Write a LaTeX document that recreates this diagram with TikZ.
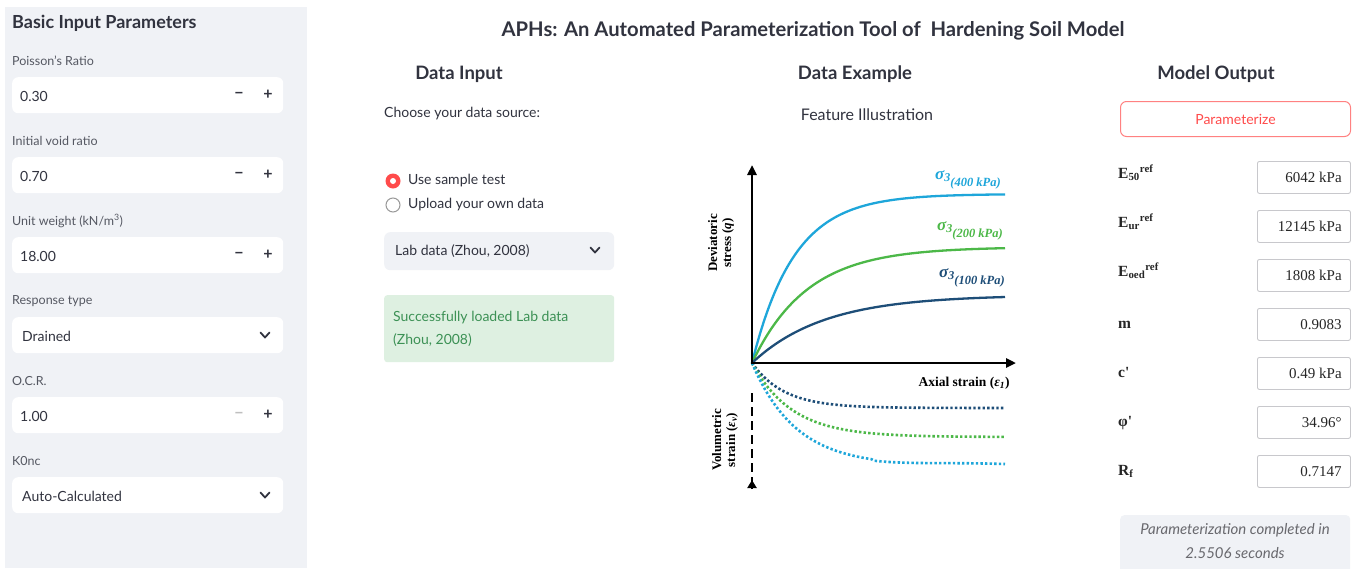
\documentclass[tikz,border=0pt]{standalone}
\usepackage{fontspec}
\setmainfont{Lato}
\newfontfamily\serifui{Liberation Serif}
\usetikzlibrary{arrows.meta}

\definecolor{sidebg}{RGB}{240,242,246}
\definecolor{uitext}{RGB}{49,51,63}
\definecolor{labeltext}{RGB}{85,88,98}
\definecolor{accent}{RGB}{255,75,75}
\definecolor{okbg}{RGB}{222,240,225}
\definecolor{oktext}{RGB}{60,145,85}
\definecolor{boxline}{RGB}{200,200,204}
\definecolor{curvecyan}{RGB}{30,166,218}
\definecolor{curvegreen}{RGB}{76,184,72}
\definecolor{curvenavy}{RGB}{30,78,120}
\definecolor{notegray}{RGB}{105,105,110}

\tikzset{
  txt/.style={inner sep=0pt, text=uitext, font=\fontsize{14}{16}\selectfont},
  fieldlabel/.style={inner sep=0pt, anchor=west, text=labeltext, font=\fontsize{12.5}{14}\selectfont},
  field/.style={fill=white, rounded corners=6pt, minimum width=271pt, minimum height=36pt, anchor=north west, inner sep=0pt},
  fieldval/.style={txt, anchor=west},
  stepper/.style={inner sep=0pt, text=uitext, font=\bfseries\fontsize{16}{16}\selectfont},
  chevron/.style={uitext, line width=1.8pt, line cap=round, line join=round},
  heading/.style={inner sep=0pt, text=uitext, font=\bfseries\fontsize{18.5}{21}\selectfont},
  outbox/.style={draw=boxline, line width=0.9pt, rounded corners=2pt, fill=white, minimum width=93pt, minimum height=32pt, anchor=north west, inner sep=0pt},
  outval/.style={inner sep=0pt, anchor=east, font=\serifui\fontsize{15}{16}\selectfont, text=black!85},
  outlabel/.style={inner sep=0pt, anchor=base west, font=\serifui\bfseries\fontsize{15.5}{16}\selectfont, text=black!85},
  axis/.style={black, line width=2.6pt},
  plotlabel/.style={inner sep=0pt, font=\serifui\bfseries\fontsize{13}{14}\selectfont, align=center},
  sigmalabel/.style={inner sep=0pt, anchor=base west, font=\serifui\bfseries\itshape\fontsize{17}{18}\selectfont},
  qcurve/.style={line width=2.3pt},
  evcurve/.style={line width=2.6pt, dash pattern=on 2.4pt off 2.2pt}
}

\newcommand{\sigmatext}[1]{σ\raisebox{-0.3ex}{\fontsize{12}{12}\selectfont 3}\raisebox{-1.0ex}{\fontsize{12.5}{13}\selectfont (#1 kPa)}}

\begin{document}
\begin{tikzpicture}[x=1pt,y=-1pt]
\useasboundingbox (0,0) rectangle (1355,568);
\fill[white] (0,0) rectangle (1355,568);

% ---------------- sidebar ----------------
\fill[sidebg] (5,7) rectangle (307,568);
\node[inner sep=0pt, anchor=west, text=uitext, font=\bfseries\fontsize{18}{21}\selectfont] (sidetitle) at (12,23) {Basic Input Parameters};

% Poisson's ratio
\node[fieldlabel] (lpoisson) at (12,61) {Poisson's Ratio};
\node[field] (fpoisson) at (12,77) {};
\node[fieldval] (vpoisson) at (20,96) {0.30};
\node[stepper] (mpoisson) at (239,95) {−};
\node[stepper] (ppoisson) at (268,95) {+};

% Initial void ratio
\node[fieldlabel] (lvoid) at (12,141) {Initial void ratio};
\node[field] (fvoid) at (12,157) {};
\node[fieldval] (vvoid) at (20,176) {0.70};
\node[stepper] (mvoid) at (239,175) {−};
\node[stepper] (pvoid) at (268,175) {+};

% Unit weight
\node[fieldlabel] (lweight) at (12,221) {Unit weight (kN/m\textsuperscript{3})};
\node[field] (fweight) at (12,237) {};
\node[fieldval] (vweight) at (20,256) {18.00};
\node[stepper] (mweight) at (239,255) {−};
\node[stepper] (pweight) at (268,255) {+};

% Response type
\node[fieldlabel] (lresp) at (12,301) {Response type};
\node[field] (fresp) at (12,317) {};
\node[fieldval] (vresp) at (22,336) {Drained};
\coordinate (cresp) at (265,335);
\draw[chevron] ([shift={(-4.5,-2.5)}]cresp) -- ([shift={(0,2.5)}]cresp) -- ([shift={(4.5,-2.5)}]cresp);

% O.C.R.
\node[fieldlabel] (locr) at (12,381) {O.C.R.};
\node[field] (focr) at (12,397) {};
\node[fieldval] (vocr) at (20,416) {1.00};
\node[stepper, text=black!25] (mocr) at (239,415) {−};
\node[stepper] (pocr) at (268,415) {+};

% K0nc
\node[fieldlabel] (lk0) at (12,461) {K0nc};
\node[field] (fk0) at (12,477) {};
\node[fieldval] (vk0) at (22,496) {Auto-Calculated};
\coordinate (ck0) at (265,495);
\draw[chevron] ([shift={(-4.5,-2.5)}]ck0) -- ([shift={(0,2.5)}]ck0) -- ([shift={(4.5,-2.5)}]ck0);

% ---------------- main title ----------------
\node[inner sep=0pt, text=uitext, font=\bfseries\fontsize{20.2}{23}\selectfont] (title) at (813,31) {APHs: An Automated Parameterization Tool of\ \ Hardening Soil Model};

% ---------------- data input ----------------
\node[heading] (hinput) at (459,74) {Data Input};
\node[txt, anchor=west] (choose) at (384,114) {Choose your data source:};

\node[circle, fill=accent, minimum size=15pt, inner sep=0pt] (radioa) at (393,181) {};
\node[circle, fill=white, minimum size=6pt, inner sep=0pt] (radioadot) at (radioa) {};
\node[txt, anchor=west] (usesample) at (408,181) {Use sample test};
\node[circle, draw=black!40, line width=1pt, fill=white, minimum size=14pt, inner sep=0pt] (radiob) at (393,205) {};
\node[txt, anchor=west] (upload) at (408,205) {Upload your own data};

\node[fill=sidebg, rounded corners=6pt, minimum width=230pt, minimum height=38pt, anchor=north west, inner sep=0pt] (srcbox) at (384,232) {};
\node[txt, anchor=west] (srcval) at (395,251) {Lab data (Zhou, 2008)};
\coordinate (csrc) at (595,250);
\draw[chevron] ([shift={(-4.5,-2.5)}]csrc) -- ([shift={(0,2.5)}]csrc) -- ([shift={(4.5,-2.5)}]csrc);

\node[fill=okbg, rounded corners=3pt, minimum width=230pt, minimum height=67pt, anchor=north west, inner sep=0pt] (okbox) at (384,295) {};
\node[txt, anchor=north west, text=oktext, align=left, font=\fontsize{14}{23}\selectfont] (oktext) at (393,311) {Successfully loaded Lab data\\(Zhou, 2008)};

% ---------------- data example ----------------
\node[heading] (hexample) at (855,74) {Data Example};
\node[txt, font=\fontsize{16}{18}\selectfont] (feature) at (867,115) {Feature Illustration};

\coordinate (O) at (752,363);
\coordinate (ytop) at (752,165);
\coordinate (xend) at (1016,363);
\coordinate (vtop) at (752,393);
\coordinate (vbot) at (752,480);

% stress-strain curves
\draw[qcurve, curvecyan] plot[domain=0:253, samples=90, smooth] ({752+\x},{363-169*(1-exp(-\x/42))});
\draw[qcurve, curvegreen] plot[domain=0:253, samples=90, smooth] ({752+\x},{363-116*(1-exp(-\x/55))});
\draw[qcurve, curvenavy] plot[domain=0:253, samples=90, smooth] ({752+\x},{363-68*(1-exp(-\x/72))});

% volumetric strain curves
\draw[evcurve, curvenavy] plot[domain=0:253, samples=90, smooth] ({752+\x},{363+45*(1-exp(-\x/32))});
\draw[evcurve, curvegreen] plot[domain=0:253, samples=90, smooth] ({752+\x},{363+74*(1-exp(-\x/40))});
\draw[evcurve, curvecyan] plot[domain=0:253, samples=90, smooth] ({752+\x},{363+103*(1-exp(-\x/44))+2*sin(\x*1.2)*(\x>120)});

% axes
\draw[axis, -{Triangle[length=10pt,width=9pt]}] (O) -- (ytop);
\draw[axis, -{Triangle[length=10pt,width=9pt]}] ([xshift=-1.3pt]O) -- (xend);
\draw[axis, dash pattern=on 9pt off 5pt] (vtop) -- ([yshift=-8pt]vbot);
\draw[axis, -{Triangle[length=8pt,width=9pt]}] ([yshift=-9pt]vbot) -- (vbot);

\node[plotlabel, rotate=90] (qlabel) at (721,243) {Deviatoric\\stress (\textit{q})};
\node[plotlabel, rotate=90] (evlabel) at (725,440) {Volumetric\\strain (\textit{ε}\textsubscript{\textit{v}})};
\node[plotlabel, font=\serifui\bfseries\fontsize{13.5}{14}\selectfont] (xlabel) at (964,383) {Axial strain (\textit{ε}\textsubscript{\textit{1}})};

\node[sigmalabel, text=curvecyan] (s400) at (935,179) {\sigmatext{400}};
\node[sigmalabel, text=curvegreen] (s200) at (937,230) {\sigmatext{200}};
\node[sigmalabel, text=curvenavy] (s100) at (939,277) {\sigmatext{100}};

% ---------------- model output ----------------
\node[heading] (houtput) at (1216,74) {Model Output};
\node[draw=accent!70, line width=1pt, rounded corners=6pt, fill=white, minimum width=230pt, minimum height=35pt, anchor=north west, inner sep=0pt] (runbtn) at (1120,101) {};
\node[txt, text=accent] (runtext) at (runbtn.center) {Parameterize};

\node[outbox] (b1) at (1257,161) {};
\node[outbox] (b2) at (1257,210) {};
\node[outbox] (b3) at (1257,259) {};
\node[outbox] (b4) at (1257,308) {};
\node[outbox] (b5) at (1257,357) {};
\node[outbox] (b6) at (1257,406) {};
\node[outbox] (b7) at (1257,455) {};

\node[outval] (v1) at ([xshift=-9pt]b1.east) {6042 kPa};
\node[outval] (v2) at ([xshift=-9pt]b2.east) {12145 kPa};
\node[outval] (v3) at ([xshift=-9pt]b3.east) {1808 kPa};
\node[outval] (v4) at ([xshift=-9pt]b4.east) {0.9083};
\node[outval] (v5) at ([xshift=-9pt]b5.east) {0.49 kPa};
\node[outval] (v6) at ([xshift=-9pt]b6.east) {34.96°};
\node[outval] (v7) at ([xshift=-9pt]b7.east) {0.7147};

\node[outlabel] (l1) at (1118,178) {E\textsubscript{50}\textsuperscript{ref}};
\node[outlabel] (l2) at (1118,227) {E\textsubscript{ur}\textsuperscript{ref}};
\node[outlabel] (l3) at (1118,276) {E\textsubscript{oed}\textsuperscript{ref}};
\node[outlabel] (l4) at (1118,328) {m};
\node[outlabel] (l5) at (1118,377) {c'};
\node[outlabel] (l6) at (1118,426) {φ'};
\node[outlabel] (l7) at (1118,475) {R\textsubscript{f}};

\node[fill=sidebg, rounded corners=4pt, minimum width=230pt, minimum height=60pt, anchor=north west, inner sep=0pt] (notebox) at (1120,515) {};
\node[txt, text=notegray, align=center, font=\itshape\fontsize{15}{24}\selectfont, anchor=north] (notetext) at (1235,523) {Parameterization completed in\\2.5506 seconds};
\end{tikzpicture}
\end{document}
